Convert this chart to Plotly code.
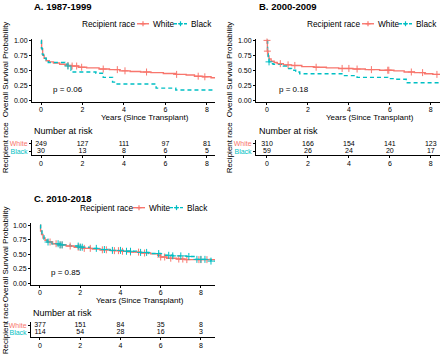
import numpy as np
import plotly.graph_objects as go

W, H = 440, 357
WHITE_C = "#F8766D"
BLACK_C = "#00BFC4"
FONT = "Liberation Sans, Arial, sans-serif"

# ---------------- data ----------------
# Panel A 1987-1999
tA_white = [0, 0.03, 0.08, 0.15, 0.25, 0.4, 0.6, 0.9, 1.2, 1.5, 1.8, 2.2, 2.8, 3.3, 3.8, 4.3, 4.8, 5.3, 5.9, 6.5, 7.0, 7.4, 7.8, 8.2, 8.4]
sA_white = [1.0, 0.86, 0.75, 0.70, 0.66, 0.64, 0.62, 0.60, 0.58, 0.57, 0.55, 0.54, 0.52, 0.51, 0.49, 0.48, 0.47, 0.46, 0.445, 0.43, 0.42, 0.40, 0.39, 0.375, 0.375]
cA_white = [1.3, 1.5, 1.72, 1.96, 3.0, 3.68, 4.05, 5.09, 6.54, 7.58, 7.9]
tA_black = [0, 0.02, 0.06, 0.12, 0.25, 0.35, 1.15, 1.3, 1.45, 1.55, 2.65, 3.0, 3.45, 3.6, 5.55, 6.5, 8.4]
sA_black = [1.0, 0.87, 0.77, 0.70, 0.67, 0.63, 0.60, 0.57, 0.50, 0.47, 0.45, 0.38, 0.30, 0.27, 0.20, 0.17, 0.17]
cA_black = [1.3]

# Panel B 2000-2009
tB_white = [0, 0.02, 0.05, 0.1, 0.2, 0.35, 0.5, 0.8, 1.2, 1.7, 2.3, 2.9, 3.5, 4.2, 4.8, 5.5, 6.2, 6.7, 7.2, 7.7, 8.1, 8.45]
sB_white = [1.0, 0.82, 0.74, 0.69, 0.65, 0.63, 0.61, 0.59, 0.58, 0.56, 0.55, 0.54, 0.53, 0.52, 0.51, 0.50, 0.49, 0.47, 0.46, 0.44, 0.43, 0.43]
cB_white = [0.0, 0.02, 0.65, 1.03, 1.36, 2.4, 3.67, 4.0, 4.4, 5.1, 5.9, 5.95, 7.05, 7.6, 8.3]
tB_black = [0, 0.03, 0.06, 0.1, 0.2, 0.3, 0.8, 1.0, 1.2, 1.4, 1.6, 3.7, 4.4, 5.9, 6.2, 6.8, 8.45]
sB_black = [1.0, 0.80, 0.70, 0.64, 0.61, 0.60, 0.57, 0.53, 0.50, 0.47, 0.44, 0.41, 0.38, 0.36, 0.35, 0.29, 0.29]
cB_black = [0.1]

# Panel C 2010-2018
tC_white = [0, 0.03, 0.08, 0.15, 0.25, 0.4, 0.6, 0.9, 1.3, 1.7, 2.1, 2.6, 3.0, 3.5, 4.0, 4.5, 5.0, 5.5, 5.85, 6.0, 6.3, 6.8, 7.2, 8.7]
sC_white = [1.0, 0.90, 0.84, 0.78, 0.74, 0.71, 0.68, 0.66, 0.64, 0.62, 0.60, 0.59, 0.575, 0.56, 0.55, 0.535, 0.52, 0.505, 0.48, 0.45, 0.43, 0.415, 0.405, 0.405]
cC_white = [0.5, 0.8, 1.0, 1.1, 1.5, 1.9, 2.0, 2.2, 2.5, 3.1, 3.3, 3.7, 3.9, 4.1, 4.5, 4.9, 5.2, 6.0, 6.2, 6.5, 6.9, 7.1, 7.3, 7.9, 8.0, 8.3]
tC_black = [0, 0.03, 0.1, 0.2, 0.35, 0.6, 1.0, 1.5, 2.0, 2.5, 3.0, 3.6, 4.2, 4.8, 5.4, 6.0, 6.6, 7.3, 7.7, 8.5, 8.7]
sC_black = [1.0, 0.95, 0.83, 0.76, 0.71, 0.68, 0.66, 0.64, 0.62, 0.60, 0.58, 0.565, 0.55, 0.53, 0.51, 0.48, 0.47, 0.46, 0.41, 0.38, 0.38]
cC_black = [0.4, 0.9, 1.0, 1.1, 1.9, 2.0, 2.1, 2.8, 3.2, 3.6, 4.0, 4.3, 4.5, 5.0, 5.3, 5.9, 6.4, 6.6, 7.0, 7.4, 7.8, 8.0, 8.2, 8.5]

risk_times = [0, 2, 4, 6, 8]
riskA_white = [249, 127, 111, 97, 81]
riskA_black = [30, 13, 8, 6, 5]
riskB_white = [310, 166, 154, 141, 123]
riskB_black = [59, 26, 24, 20, 17]
riskC_white = [377, 151, 84, 35, 8]
riskC_black = [114, 54, 28, 16, 3]

titles = ["A. 1987-1999", "B. 2000-2009", "C. 2010-2018"]
pvalues = ["p = 0.06", "p = 0.18", "p = 0.85"]
groups = ["White", "Black"]
y_ticks = [0, 0.25, 0.5, 0.75, 1.0]
x_ticks = [0, 2, 4, 6, 8]

# ---------------- helpers ----------------
def px_x(p):
    return p / W

def px_y(p):
    return 1 - p / H

def step_at(times, surv, t):
    times = np.asarray(times); surv = np.asarray(surv)
    idx = np.searchsorted(times, t, side="right") - 1
    return surv[np.clip(idx, 0, len(surv) - 1)]

fig = go.Figure()

# panel geometry (pixels)
panels = [
    dict(main_x=(32, 215), main_y=(37, 101), xr=(-0.434, 8.39),
         tab_x=(32, 215), tab_y=(139.6, 155), tab_xr=(-0.434, 8.39),
         title_xy=(32, 5), leg_y=22, leg_title_x=80, leg_keys=[(137, 149, 151), (174, 187, 189)],
         xtitle_xy=(145, 117), ytitle_x=5, ytitle_y=68, rr_y=147, nar_xy=(32, 130.5), p_xy=(0.5, 0.18)),
    dict(main_x=(256, 440), main_y=(37, 101), xr=(-0.537, 8.45),
         tab_x=(256, 440), tab_y=(139.6, 155), tab_xr=(-0.537, 8.45),
         title_xy=(257, 5), leg_y=22, leg_title_x=305, leg_keys=[(362, 374, 376), (399, 412, 414)],
         xtitle_xy=(370, 117), ytitle_x=229, ytitle_y=68, rr_y=147, nar_xy=(257, 130.5), p_xy=(0.5, 0.18)),
    dict(main_x=(31, 215), main_y=(224, 286), xr=(-0.447, 8.70),
         tab_x=(31, 215), tab_y=(323.25, 339), tab_xr=(-0.447, 8.70),
         title_xy=(32, 199), leg_y=208, leg_title_x=78, leg_keys=[(133, 145, 147), (170, 183, 185)],
         xtitle_xy=(140, 301.5), ytitle_x=5, ytitle_y=255, rr_y=330, nar_xy=(31, 315), p_xy=(0.45, 0.19)),
]
tab_ranges = [[-0.55, 1.5], [-0.55, 1.5], [-0.6, 1.5]]

curves = [
    (tA_white, sA_white, cA_white, tA_black, sA_black, cA_black),
    (tB_white, sB_white, cB_white, tB_black, sB_black, cB_black),
    (tC_white, sC_white, cC_white, tC_black, sC_black, cC_black),
]
risks = [(riskA_white, riskA_black), (riskB_white, riskB_black), (riskC_white, riskC_black)]

axis_common = dict(showgrid=False, zeroline=False, showline=True, linecolor="black",
                   linewidth=1, ticks="outside", ticklen=2, tickcolor="black",
                   tickfont=dict(size=7, color="black", family=FONT))

annotations = []
shapes = []
layout_axes = {}
for i, (pn, cv, rk) in enumerate(zip(panels, curves, risks)):
    mi = 2 * i + 1
    ti = 2 * i + 2
    mx = "x" if mi == 1 else f"x{mi}"
    my = "y" if mi == 1 else f"y{mi}"
    tx = f"x{ti}"
    ty = f"y{ti}"
    tw, sw, cw, tb, sb, cb = cv

    # KM step curves
    fig.add_trace(go.Scatter(x=tw, y=sw, mode="lines", line=dict(color=WHITE_C, width=1.4, shape="hv"),
                             xaxis=mx, yaxis=my, showlegend=False, hoverinfo="skip"))
    fig.add_trace(go.Scatter(x=tb, y=sb, mode="lines", line=dict(color=BLACK_C, width=1.4, shape="hv", dash="4px,3px"),
                             xaxis=mx, yaxis=my, showlegend=False, hoverinfo="skip"))
    # censor marks
    fig.add_trace(go.Scatter(x=cw, y=step_at(tw, sw, cw), mode="markers",
                             marker=dict(symbol="cross-thin", size=5, line=dict(color=WHITE_C, width=1)),
                             xaxis=mx, yaxis=my, showlegend=False, hoverinfo="skip"))
    fig.add_trace(go.Scatter(x=cb, y=step_at(tb, sb, cb), mode="markers",
                             marker=dict(symbol="cross-thin", size=5, line=dict(color=BLACK_C, width=1)),
                             xaxis=mx, yaxis=my, showlegend=False, hoverinfo="skip"))

    # risk table numbers
    rw, rb = rk
    fig.add_trace(go.Scatter(x=risk_times, y=[1] * len(risk_times), mode="text",
                             text=[str(v) for v in rw], textfont=dict(size=7, color="black", family=FONT),
                             xaxis=tx, yaxis=ty, showlegend=False, hoverinfo="skip"))
    fig.add_trace(go.Scatter(x=risk_times, y=[0] * len(risk_times), mode="text",
                             text=[str(v) for v in rb], textfont=dict(size=7, color="black", family=FONT),
                             xaxis=tx, yaxis=ty, showlegend=False, hoverinfo="skip"))

    # axes
    xk = "xaxis" if mi == 1 else f"xaxis{mi}"
    yk = "yaxis" if mi == 1 else f"yaxis{mi}"
    layout_axes[xk] = dict(axis_common, domain=[px_x(pn["main_x"][0]), px_x(pn["main_x"][1])],
                           range=list(pn["xr"]), tickvals=x_ticks, anchor=my, ticklabelstandoff=-1)
    layout_axes[yk] = dict(axis_common, domain=[px_y(pn["main_y"][1]), px_y(pn["main_y"][0])],
                           range=[-0.03, 1.03], tickvals=y_ticks, tickformat=".2f", anchor=mx)
    layout_axes[f"xaxis{ti}"] = dict(axis_common, domain=[px_x(pn["tab_x"][0]), px_x(pn["tab_x"][1])],
                                     range=list(pn["tab_xr"]), tickvals=x_ticks, anchor=ty, ticklabelstandoff=-1)
    layout_axes[f"yaxis{ti}"] = dict(axis_common, domain=[px_y(pn["tab_y"][1]), px_y(pn["tab_y"][0])],
                                     range=tab_ranges[i], tickvals=[1, 0], ticklen=2,
                                     ticktext=[f"<span style='color:{WHITE_C}'>White</span>",
                                               f"<span style='color:{BLACK_C}'>Black</span>"],
                                     anchor=tx)

    # manual legend (ggplot style, compact)
    ly = px_y(pn["leg_y"])
    annotations.append(dict(text="Recipient race", x=px_x(pn["leg_title_x"]), y=ly, xref="paper", yref="paper",
                            xanchor="left", yanchor="middle", showarrow=False,
                            font=dict(size=8.3, family=FONT, color="black")))
    for (k0, k1, kt), grp, col, dash in zip(pn["leg_keys"], groups, [WHITE_C, BLACK_C], ["solid", "3px,2px"]):
        shapes.append(dict(type="line", xref="paper", yref="paper", x0=px_x(k0), x1=px_x(k1), y0=ly, y1=ly,
                           line=dict(color=col, width=1.4, dash=dash)))
        kc = (k0 + k1) / 2
        shapes.append(dict(type="line", xref="paper", yref="paper", x0=px_x(kc), x1=px_x(kc),
                           y0=px_y(pn["leg_y"] - 2.5), y1=px_y(pn["leg_y"] + 2.5),
                           line=dict(color=col, width=1.2)))
        shapes.append(dict(type="line", xref="paper", yref="paper", x0=px_x(kc - 2.5), x1=px_x(kc + 2.5),
                           y0=ly, y1=ly, line=dict(color=col, width=1.2)))
        annotations.append(dict(text=grp, x=px_x(kt), y=ly, xref="paper", yref="paper",
                                xanchor="left", yanchor="middle", showarrow=False,
                                font=dict(size=8.3, family=FONT, color="black")))

    # text annotations
    annotations.append(dict(text=f"<b>{titles[i]}</b>", x=px_x(pn["title_xy"][0]), y=px_y(pn["title_xy"][1]),
                            xref="paper", yref="paper", xanchor="left", yanchor="middle", showarrow=False,
                            font=dict(size=9.5, family=FONT, color="black")))
    annotations.append(dict(text="Years (Since Transplant)", x=px_x(pn["xtitle_xy"][0]), y=px_y(pn["xtitle_xy"][1]),
                            xref="paper", yref="paper", xanchor="center", yanchor="middle", showarrow=False,
                            font=dict(size=8, family=FONT, color="black")))
    annotations.append(dict(text="Overall Survival Probability", x=px_x(pn["ytitle_x"]), y=px_y(pn["ytitle_y"]),
                            xref="paper", yref="paper", xanchor="center", yanchor="middle", showarrow=False,
                            textangle=-90, font=dict(size=8, family=FONT, color="black")))
    annotations.append(dict(text="Recipient race", x=px_x(pn["ytitle_x"]), y=px_y(pn["rr_y"]),
                            xref="paper", yref="paper", xanchor="center", yanchor="middle", showarrow=False,
                            textangle=-90, font=dict(size=8, family=FONT, color="black")))
    annotations.append(dict(text="Number at risk", x=px_x(pn["nar_xy"][0]), y=px_y(pn["nar_xy"][1]),
                            xref="paper", yref="paper", xanchor="left", yanchor="middle", showarrow=False,
                            font=dict(size=9, family=FONT, color="black")))
    annotations.append(dict(text=pvalues[i], x=pn["p_xy"][0], y=pn["p_xy"][1], xref=mx, yref=my,
                            xanchor="left", yanchor="middle", showarrow=False,
                            font=dict(size=8, family=FONT, color="black")))

fig.update_layout(
    width=W, height=H, margin=dict(l=0, r=0, t=0, b=0),
    paper_bgcolor="white", plot_bgcolor="white", showlegend=False,
    font=dict(family=FONT, size=8, color="black"),
    annotations=annotations, shapes=shapes, **layout_axes,
)

fig.write_html("out.html", config={"displayModeBar": False},
               post_script="document.body.style.margin='0';")
